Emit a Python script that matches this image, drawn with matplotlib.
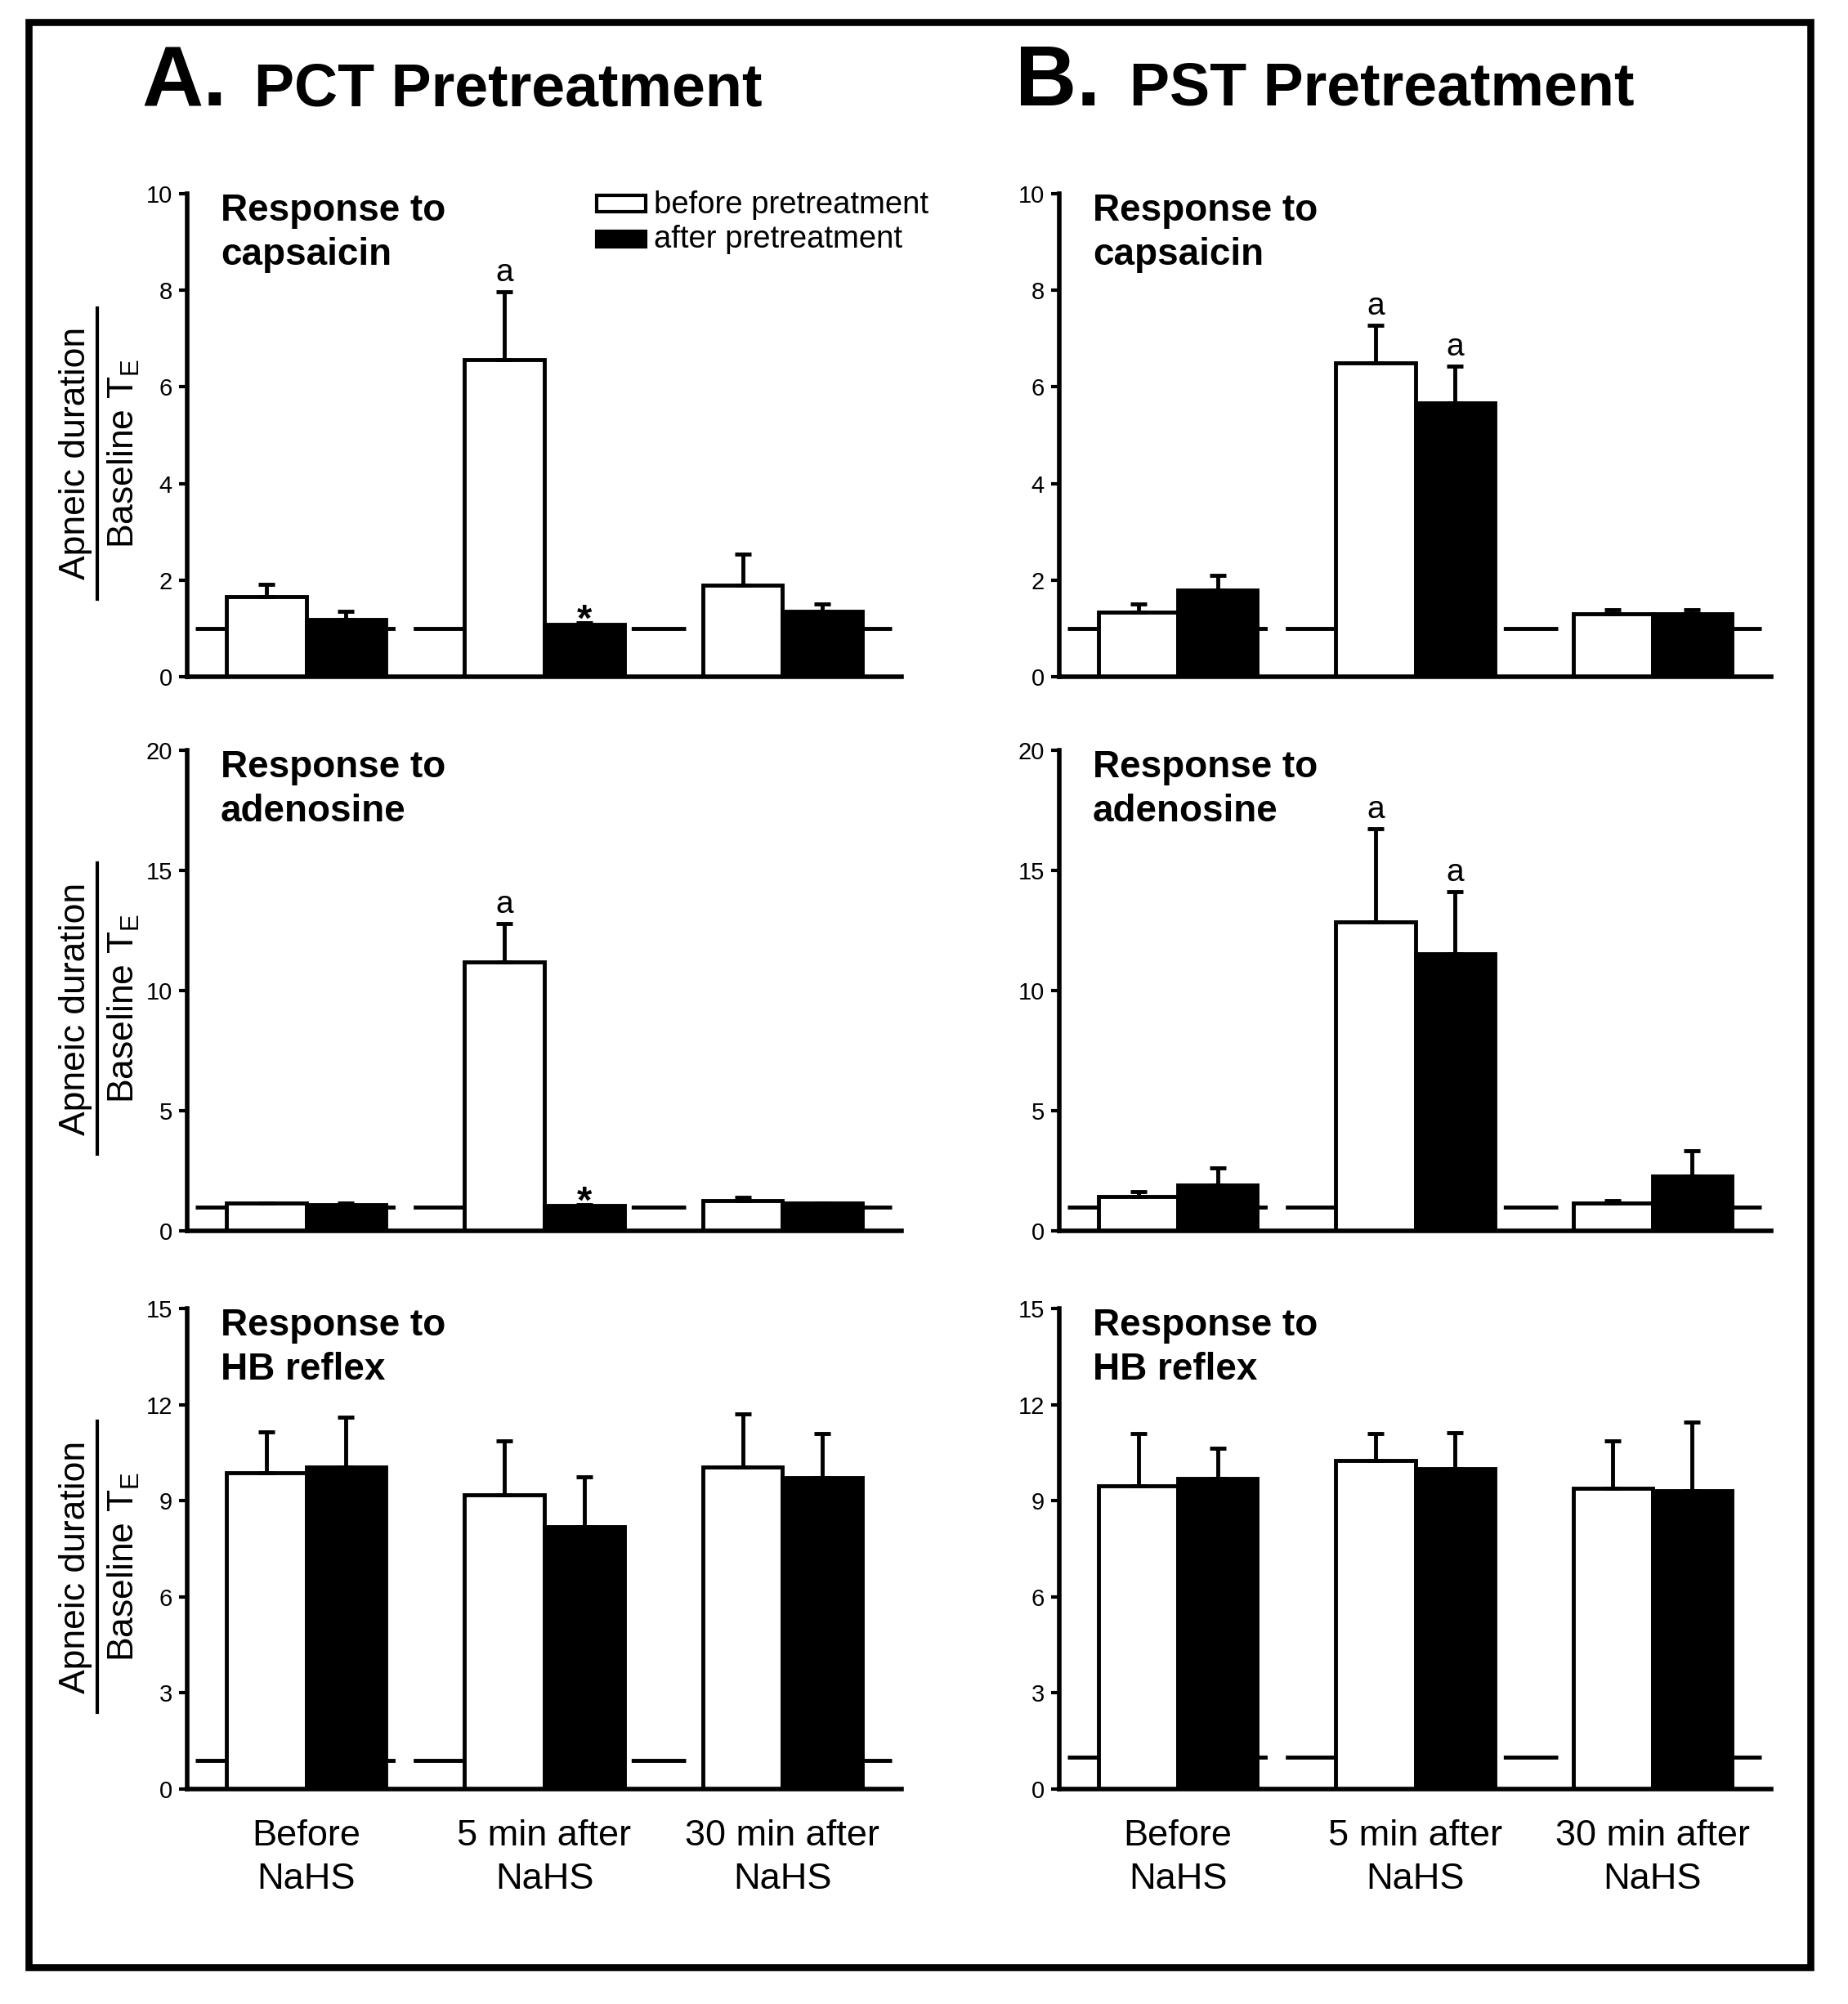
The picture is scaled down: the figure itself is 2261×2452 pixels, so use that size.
import numpy as np
import matplotlib
matplotlib.use('Agg')
import matplotlib.pyplot as plt
from matplotlib.patches import Rectangle
from matplotlib.lines import Line2D

plt.rcParams['font.family'] = ['Liberation Sans', 'DejaVu Sans']
plt.rcParams['lines.scale_dashes'] = False

W, H = 2261, 2452

groups = ['Before\nNaHS', '5 min after\nNaHS', '30 min after\nNaHS']

# PCT pretreatment (column A)
capA_before = [1.66, 6.57, 1.90]
capA_before_err = [0.26, 1.40, 0.63]
capA_after = [1.19, 1.09, 1.36]
capA_after_err = [0.17, 0.03, 0.15]

adoA_before = [1.14, 11.2, 1.25]
adoA_before_err = [0.03, 1.60, 0.13]
adoA_after = [1.09, 1.04, 1.14]
adoA_after_err = [0.05, 0.05, 0.03]

hbA_before = [9.88, 9.18, 10.04]
hbA_before_err = [1.28, 1.68, 1.66]
hbA_after = [10.04, 8.20, 9.72]
hbA_after_err = [1.56, 1.54, 1.38]

# PST pretreatment (column B)
capB_before = [1.34, 6.49, 1.30]
capB_before_err = [0.17, 0.79, 0.08]
capB_after = [1.80, 5.67, 1.31]
capB_after_err = [0.29, 0.76, 0.08]

adoB_before = [1.43, 12.86, 1.14]
adoB_before_err = [0.19, 3.89, 0.11]
adoB_after = [1.92, 11.53, 2.27]
adoB_after_err = [0.71, 2.59, 1.06]

hbB_before = [9.46, 10.25, 9.40]
hbB_before_err = [1.63, 0.84, 1.47]
hbB_after = [9.69, 9.99, 9.32]
hbB_after_err = [0.96, 1.14, 2.13]

# significance marks: (group index, series, symbol)
capA_marks = [(1, 'before', 'a'), (1, 'after', '*')]
adoA_marks = [(1, 'before', 'a'), (1, 'after', '*')]
capB_marks = [(1, 'before', 'a'), (1, 'after', 'a')]
adoB_marks = [(1, 'before', 'a'), (1, 'after', 'a')]

w = 0.335


def draw_panel(ax, bef, bef_err, aft, aft_err, ymax, ystep, title, marks, base, xlabels):
    x = np.arange(3)
    ax.plot([-0.465, 2.46], [base, base], color='k', lw=3.5, dashes=(48, 16),
            dash_capstyle='butt', zorder=1)
    ax.bar(x - w / 2, bef, w, color='white', edgecolor='k', linewidth=3.5, zorder=2)
    ax.bar(x + w / 2, aft, w, color='black', edgecolor='k', linewidth=3.5, zorder=2)
    ax.errorbar(x - w / 2, bef, yerr=[np.zeros(3), bef_err], fmt='none', ecolor='k',
                elinewidth=3.5, capsize=7.5, capthick=3.5, zorder=3)
    ax.errorbar(x + w / 2, aft, yerr=[np.zeros(3), aft_err], fmt='none', ecolor='k',
                elinewidth=3.5, capsize=7.5, capthick=3.5, zorder=3)

    for idx, series, sym in marks:
        if series == 'before':
            xx = idx - w / 2
            top = bef[idx] + bef_err[idx]
        else:
            xx = idx + w / 2
            top = aft[idx] + aft_err[idx]
        if sym == 'a':
            ax.annotate('a', (xx, top), xytext=(0, 9), textcoords='offset points',
                        ha='center', va='baseline', fontsize=28)
        else:
            ax.annotate('*', (xx, top), xytext=(0, -7), textcoords='offset points',
                        ha='center', va='baseline', fontsize=34, fontweight='bold')

    ax.set_xlim(-0.5, 2.5)
    ax.set_ylim(0, ymax)
    ax.set_yticks(np.arange(0, ymax + 0.1, ystep))
    for s in ['top', 'right']:
        ax.spines[s].set_visible(False)
    for s in ['left', 'bottom']:
        ax.spines[s].set_linewidth(4)
    ax.tick_params(axis='y', direction='out', length=7, width=3, labelsize=21, pad=6)
    ax.set_xticks(x)
    if xlabels:
        ax.set_xticklabels(groups, fontsize=32.5, linespacing=1.35)
    else:
        ax.set_xticklabels([])
    ax.tick_params(axis='x', length=0, pad=27)

    ax.annotate(title[0], xy=(0, 1), xycoords='axes fraction', xytext=(29.5, -23.8),
                textcoords='offset points', fontsize=33, fontweight='bold',
                ha='left', va='baseline')
    ax.annotate(title[1], xy=(0, 1), xycoords='axes fraction', xytext=(29.5, -62.6),
                textcoords='offset points', fontsize=33, fontweight='bold',
                ha='left', va='baseline')


fig = plt.figure(figsize=(W / 100, H / 100), dpi=100)

colA = (229 / W, 874 / W)
colB = (1296 / W, 871 / W)
rows = [(1 - 828 / H, 591 / H), (1 - 1506 / H, 588 / H), (1 - 2189 / H, 588 / H)]

panels = [
    (colA, rows[0], capA_before, capA_before_err, capA_after, capA_after_err, 10, 2,
     ('Response to', 'capsaicin'), capA_marks, 1.0, False),
    (colA, rows[1], adoA_before, adoA_before_err, adoA_after, adoA_after_err, 20, 5,
     ('Response to', 'adenosine'), adoA_marks, 1.0, False),
    (colA, rows[2], hbA_before, hbA_before_err, hbA_after, hbA_after_err, 15, 3,
     ('Response to', 'HB reflex'), [], 0.9, True),
    (colB, rows[0], capB_before, capB_before_err, capB_after, capB_after_err, 10, 2,
     ('Response to', 'capsaicin'), capB_marks, 1.0, False),
    (colB, rows[1], adoB_before, adoB_before_err, adoB_after, adoB_after_err, 20, 5,
     ('Response to', 'adenosine'), adoB_marks, 1.0, False),
    (colB, rows[2], hbB_before, hbB_before_err, hbB_after, hbB_after_err, 15, 3,
     ('Response to', 'HB reflex'), [], 1.0, True),
]

for col, row, b, be, a, ae, ymax, ystep, title, marks, base, xl in panels:
    ax = fig.add_axes([col[0], row[0], col[1], row[1]])
    draw_panel(ax, b, be, a, ae, ymax, ystep, title, marks, base, xl)
    if col is colA:
        yc = row[0] + row[1] / 2 - 22 / H
        fig.text(0.0407, yc, 'Apneic duration', rotation=90, ha='center', va='center',
                 fontsize=32)
        fig.text(0.0668, yc, r'Baseline T$_\mathregular{E}$', rotation=90, ha='center',
                 va='center', fontsize=32)
        fig.add_artist(Line2D([119 / W, 119 / W], [yc - 178 / H, yc + 178 / H],
                              transform=fig.transFigure, color='k', lw=3))

# panel headings
fig.text(173 / W, 1 - 129 / H, 'A.', fontsize=75, fontweight='bold', ha='left', va='baseline')
fig.text(311 / W, 1 - 129 / H, 'PCT Pretreatment', fontsize=53, fontweight='bold',
         ha='left', va='baseline')
fig.text(1242 / W, 1 - 129 / H, 'B.', fontsize=75, fontweight='bold', ha='left', va='baseline')
fig.text(1382 / W, 1 - 129 / H, 'PST Pretreatment', fontsize=53, fontweight='bold',
         ha='left', va='baseline')

# legend
fig.add_artist(Rectangle((730 / W, 1 - 259 / H), 60 / W, 20 / H, transform=fig.transFigure,
                         facecolor='white', edgecolor='k', lw=3))
fig.add_artist(Rectangle((730 / W, 1 - 302 / H), 60 / W, 19 / H, transform=fig.transFigure,
                         facecolor='black', edgecolor='k', lw=3))
fig.text(800 / W, 1 - 261 / H, 'before pretreatment', fontsize=27.5, ha='left', va='baseline')
fig.text(800 / W, 1 - 303 / H, 'after pretreatment', fontsize=27.5, ha='left', va='baseline')

# outer frame
fig.add_artist(Rectangle((35 / W, 1 - 2407 / H), 2180 / W, 2380 / H, transform=fig.transFigure,
                         facecolor='none', edgecolor='k', lw=6.2))

fig.savefig('out.png', dpi=100, facecolor='white')
